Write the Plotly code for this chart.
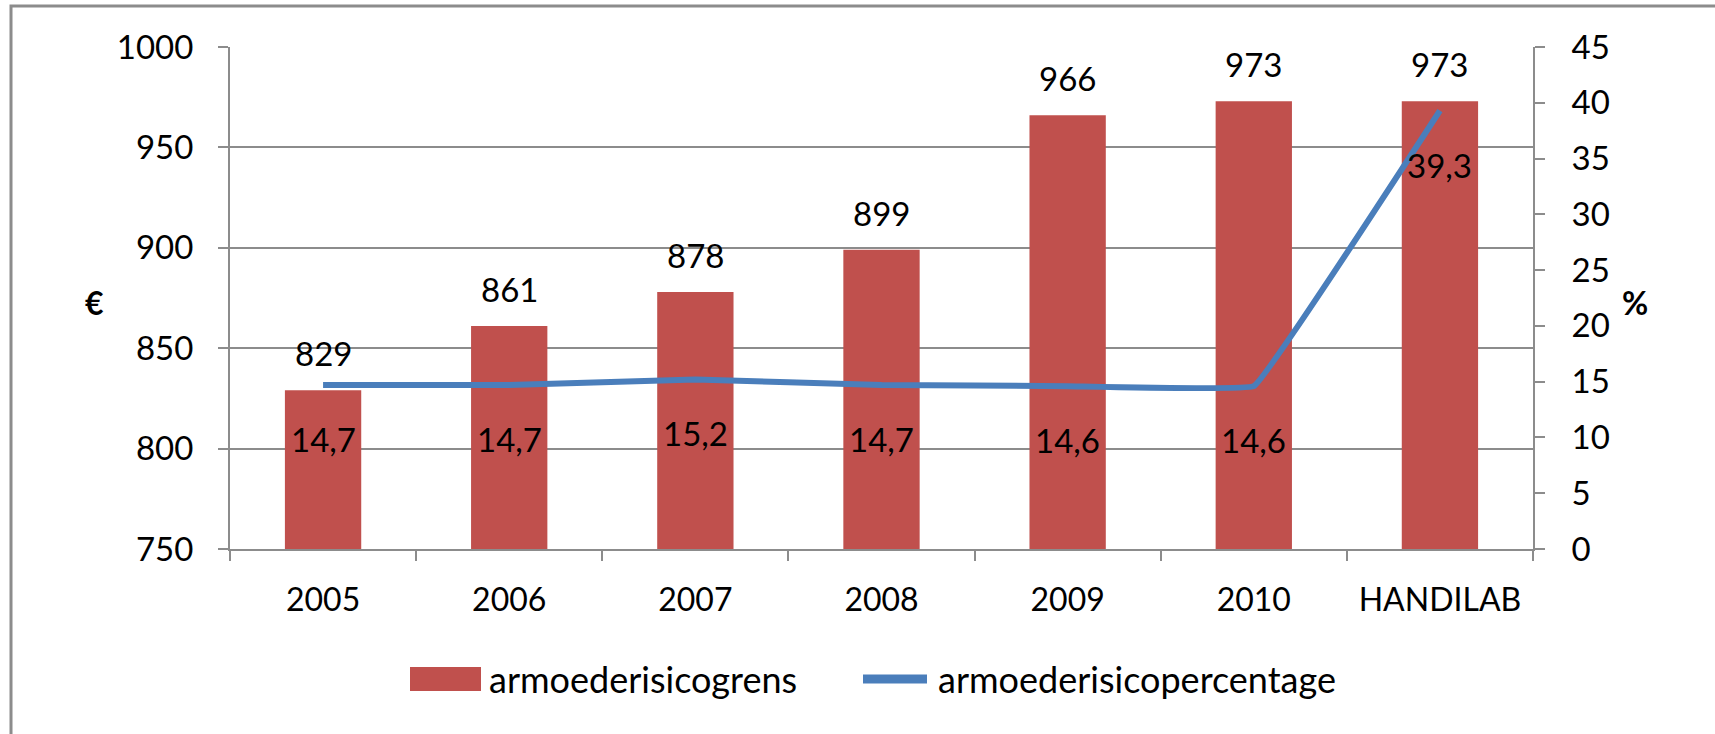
import plotly.graph_objects as go

categories = ["2005", "2006", "2007", "2008", "2009", "2010", "HANDILAB"]
grens = [829, 861, 878, 899, 966, 973, 973]
percentage = [14.7, 14.7, 15.2, 14.7, 14.6, 14.6, 39.3]
pct_labels = ["14,7", "14,7", "15,2", "14,7", "14,6", "14,6", "39,3"]
series_names = ["armoederisicogrens", "armoederisicopercentage"]

FONT = "Lato, 'Open Sans', sans-serif"
RED = "#C0504D"
BLUE = "#4A7EBB"
GRID = "#8C8C8C"

W, H = 1715, 734
L, R, T, B = 230, 182, 47, 185
pw, ph = W - L - R, H - T - B


def px(xp):
    return (xp - L) / pw


def py(yp):
    return (H - B - yp) / ph


fig = go.Figure()
fig.add_trace(go.Bar(
    x=categories, y=grens, name=series_names[0],
    marker=dict(color=RED, line=dict(width=0)),
    yaxis="y", showlegend=False,
))
fig.add_trace(go.Scatter(
    x=categories, y=percentage, name=series_names[1],
    mode="lines", line=dict(color=BLUE, width=6, shape="spline", smoothing=0.15),
    yaxis="y2", showlegend=False,
))

annotations = []
for i, v in enumerate(grens):
    annotations.append(dict(x=i, y=v, xref="x", yref="y", text=str(v), showarrow=False,
                            yanchor="middle", yshift=37, font=dict(size=33, color="black", family=FONT)))
for i, (v, t) in enumerate(zip(percentage, pct_labels)):
    annotations.append(dict(x=i, y=v, xref="x", yref="y2", text=t, showarrow=False,
                            yanchor="middle", yshift=-54, font=dict(size=33, color="black", family=FONT)))
annotations.append(dict(x=px(83), y=py(302), xref="paper", yref="paper", text="<b>€</b>",
                        showarrow=False, font=dict(size=32, color="black", family=FONT)))
annotations.append(dict(x=px(1650), y=py(302), xref="paper", yref="paper", text="<b>%</b>",
                        showarrow=False, font=dict(size=32, color="black", family=FONT)))
# legend texts
annotations.append(dict(x=px(487), y=py(679), xref="paper", yref="paper", text=series_names[0],
                        xanchor="left", yanchor="middle", showarrow=False,
                        font=dict(size=36, color="black", family=FONT)))
annotations.append(dict(x=px(936), y=py(679), xref="paper", yref="paper", text=series_names[1],
                        xanchor="left", yanchor="middle", showarrow=False,
                        font=dict(size=36, color="black", family=FONT)))

shapes = [
    dict(type="rect", xref="paper", yref="paper",
         x0=px(11), y0=py(745), x1=px(1730), y1=py(6),
         line=dict(color="#8C8C8C", width=3), fillcolor="rgba(0,0,0,0)", layer="below"),
    # legend symbols
    dict(type="rect", xref="paper", yref="paper",
         x0=px(410), y0=py(691), x1=px(481), y1=py(667),
         line=dict(width=0), fillcolor=RED),
    dict(type="line", xref="paper", yref="paper",
         x0=px(863), y0=py(679), x1=px(927), y1=py(679),
         line=dict(color=BLUE, width=9)),
]

fig.update_layout(
    width=W, height=H,
    margin=dict(l=L, r=R, t=T, b=B),
    paper_bgcolor="white", plot_bgcolor="white",
    bargap=0.59,
    font=dict(family=FONT, size=33, color="black"),
    xaxis=dict(
        type="category", categoryorder="array", categoryarray=categories,
        range=[-0.5, len(categories) - 0.5],
        tickson="boundaries", ticks="outside", ticklen=10, tickwidth=2,
        tickcolor=GRID, showline=True, linecolor=GRID, linewidth=2, showgrid=False,
        tickfont=dict(size=32), ticklabelstandoff=22, tickangle=0,
    ),
    yaxis=dict(
        range=[750, 1000], dtick=50, ticks="outside", ticklen=10, tickwidth=2, tickcolor=GRID,
        showline=True, linecolor=GRID, linewidth=2, showgrid=True, gridcolor=GRID, gridwidth=2,
        zeroline=False, tickfont=dict(size=33), ticklabelstandoff=18,
    ),
    yaxis2=dict(
        range=[0, 45], dtick=5, overlaying="y", side="right", ticks="outside", ticklen=10,
        tickwidth=2, tickcolor=GRID, showline=True, linecolor=GRID, linewidth=2, showgrid=False,
        zeroline=False, tickfont=dict(size=33), ticklabelstandoff=20,
    ),
    annotations=annotations,
    shapes=shapes,
    showlegend=False,
)

fig.write_html("out.html", config={"displayModeBar": False},
               post_script="document.body.style.margin='0';")
